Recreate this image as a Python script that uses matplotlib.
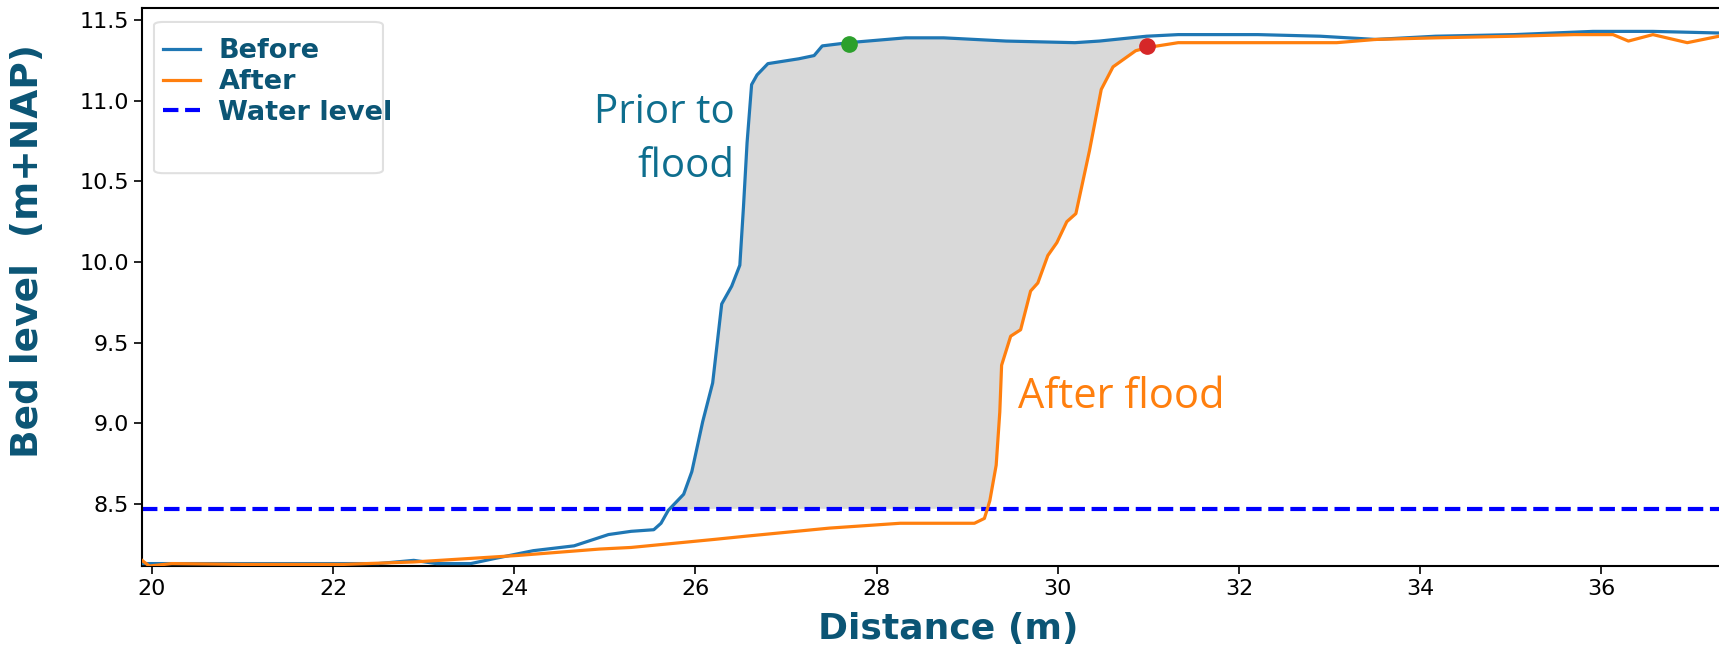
import numpy as np
import matplotlib
matplotlib.use('Agg')
import matplotlib.pyplot as plt
from matplotlib.patches import FancyBboxPatch

# Bed level profile (m, m+NAP)
x_before = [19.89, 20.5, 21.5, 22.5, 22.89, 23.14, 23.52, 23.77, 24.21, 24.66,
            25.04, 25.29, 25.54, 25.62, 25.70, 25.87, 25.96, 26.08, 26.19, 26.29,
            26.40, 26.49, 26.53, 26.57, 26.62, 26.68, 26.80, 27.14, 27.31, 27.40,
            27.69, 28.32, 28.74, 29.43, 30.19, 30.46, 30.98, 31.33, 32.21, 32.90,
            33.51, 34.17, 35.04, 35.91, 36.57, 37.30]
y_before = [8.13, 8.13, 8.13, 8.13, 8.15, 8.13, 8.13, 8.16, 8.21, 8.24,
            8.31, 8.33, 8.34, 8.38, 8.46, 8.56, 8.70, 9.01, 9.25, 9.74,
            9.85, 9.98, 10.34, 10.74, 11.10, 11.16, 11.23, 11.26, 11.28, 11.34,
            11.36, 11.39, 11.39, 11.37, 11.36, 11.37, 11.40, 11.41, 11.41, 11.40,
            11.38, 11.40, 11.41, 11.43, 11.43, 11.42]

x_after = [19.89, 19.97, 20.22, 21.0, 22.12, 22.89, 24.03, 24.94, 25.29, 26.21,
           26.56, 27.48, 28.26, 28.74, 29.08, 29.19, 29.25, 29.32, 29.36, 29.38,
           29.48, 29.59, 29.70, 29.78, 29.89, 29.99, 30.10, 30.20, 30.35, 30.48,
           30.61, 30.86, 30.99, 31.33, 32.21, 33.08, 33.51, 34.17, 35.04, 35.70,
           36.13, 36.30, 36.57, 36.95, 37.30]
y_after = [8.15, 8.115, 8.13, 8.125, 8.125, 8.14, 8.18, 8.22, 8.23, 8.28,
           8.30, 8.35, 8.38, 8.38, 8.38, 8.41, 8.52, 8.74, 9.07, 9.36,
           9.54, 9.58, 9.82, 9.87, 10.04, 10.12, 10.25, 10.30, 10.69, 11.07,
           11.21, 11.31, 11.33, 11.36, 11.36, 11.36, 11.38, 11.39, 11.40, 11.41,
           11.41, 11.37, 11.41, 11.36, 11.40]

water_level = 8.47
crest_before = (27.69, 11.35)
crest_after = (30.99, 11.34)
erosion_x = (25.70, 30.99)

x_before = np.array(x_before)
y_before = np.array(y_before)
x_after = np.array(x_after)
y_after = np.array(y_after)

label_col = '#0b5575'

fig = plt.figure(figsize=(17.19, 6.54), dpi=100)
ax = fig.add_axes([142/1719, 1 - 566/654, (1719 - 142)/1719, (566 - 8)/654])

# eroded area: before profile on top, after profile (clipped at water level) below
m_b = (x_before >= erosion_x[0]) & (x_before <= erosion_x[1])
m_a = (x_after >= erosion_x[0]) & (x_after <= erosion_x[1])
poly_x = np.concatenate([x_before[m_b], x_after[m_a][::-1]])
poly_y = np.concatenate([y_before[m_b], np.maximum(y_after[m_a], water_level)[::-1]])
ax.fill(poly_x, poly_y, color='#d9d9d9', lw=0, zorder=1)

ax.plot(x_before, y_before, color='#1f77b4', lw=2.3, label='Before', zorder=3)
ax.plot(x_after, y_after, color='#ff7f0e', lw=2.3, label='After', zorder=3)
ax.axhline(water_level, color='blue', ls='--', lw=3, label='Water level', zorder=2)
ax.plot(*crest_before, 'o', color='#2ca02c', ms=11, zorder=4)
ax.plot(*crest_after, 'o', color='#d62728', ms=11, zorder=4)

ax.text(26.43, 10.527, 'Prior to\nflood', ha='right', va='baseline', multialignment='right',
        family='Open Sans', fontsize=29, color='#0e6e8e', linespacing=1.45)
ax.text(29.56, 9.096, 'After flood', ha='left', va='baseline',
        family='Open Sans', fontsize=30, color='#ff7f0e')

ax.set_xlim(19.89, 37.3)
ax.set_ylim(8.115, 11.575)
ax.set_xticks(np.arange(20, 37, 2))
ax.set_yticks([8.5, 9.0, 9.5, 10.0, 10.5, 11.0, 11.5])
ax.tick_params(labelsize=16, length=6, width=1.2)
ax.spines['right'].set_visible(False)
for s in ['left', 'bottom', 'top']:
    ax.spines[s].set_linewidth(1.5)

ax.set_xlabel('Distance (m)', fontsize=26, fontweight='bold', color=label_col)
ax.set_ylabel('Bed level  (m+NAP)', fontsize=27, fontweight='bold', color=label_col)
ax.xaxis.set_label_coords(0.511, -0.082)
ax.yaxis.set_label_coords(-0.061, 0.565)

# legend box is narrower than its text in the original, so draw the frame by hand
box = FancyBboxPatch((0.0076, 0.704), 0.1452, 0.271, transform=ax.transAxes,
                     boxstyle='round,pad=0,rounding_size=0.006', facecolor='white',
                     edgecolor='#dddddd', lw=1.5, alpha=0.9, zorder=4.5)
ax.add_patch(box)
ax.legend(loc='upper left', bbox_to_anchor=(0.0133, 0.946), borderaxespad=0, borderpad=0,
          handlelength=1.35, handletextpad=0.7, labelspacing=0.18,
          prop={'size': 19.5, 'weight': 'bold'}, labelcolor=label_col, frameon=False)

fig.savefig('out.png', dpi=100)
